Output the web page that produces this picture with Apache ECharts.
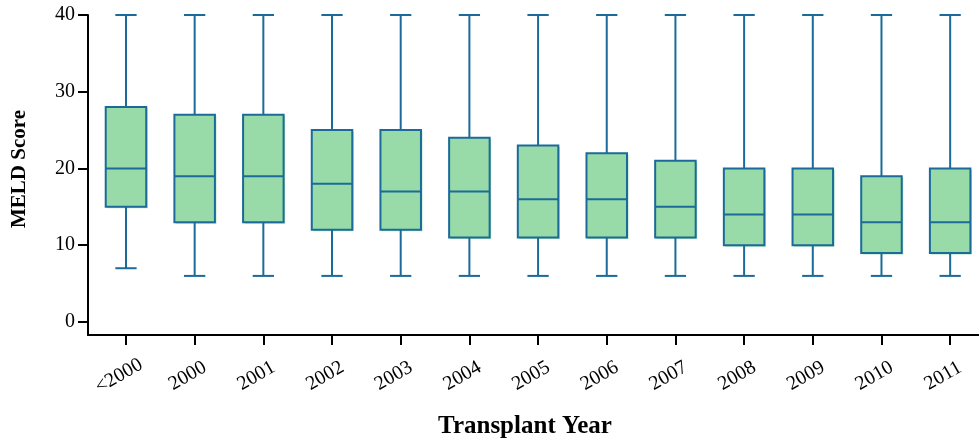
<!DOCTYPE html>
<html><head><meta charset="utf-8">
<script src="https://cdn.jsdelivr.net/npm/echarts@6/dist/echarts.min.js"></script>
<style>html,body{margin:0;padding:0;background:#fff}#c{width:979px;height:442px}</style>
</head><body><div id="c"></div>
<script>
const categories = ['<2000','2000','2001','2002','2003','2004','2005','2006','2007','2008','2009','2010','2011'];
const whiskerLow  = [7, 6, 6, 6, 6, 6, 6, 6, 6, 6, 6, 6, 6];
const q1          = [15,13,13,12,12,11,11,11,11,10,10, 9, 9];
const median      = [20,19,19,18,17,17,16,16,15,14,14,13,13];
const q3          = [28,27,27,25,25,24,23,22,21,20,20,19,20];
const whiskerHigh = [40,40,40,40,40,40,40,40,40,40,40,40,40];
const yTicks = [0,10,20,30,40];

const FONT = "'Liberation Serif','Times New Roman',serif";
const STROKE = '#1a6b9a';
const FILL = '#98dba8';

const chart = echarts.init(document.getElementById('c'), null, {renderer:'canvas'});
const data = categories.map((c,i)=>[i, whiskerLow[i], q1[i], median[i], q3[i], whiskerHigh[i]]);
const xIdx = categories.map((c,i)=>i);

chart.setOption({
  animation:false,
  backgroundColor:'#fff',
  grid:{left:88, right:0, top:15, bottom:107, containLabel:false},
  title:{text:'Transplant Year', left:520, top:409, textAlign:'center',
    textStyle:{fontFamily:FONT, fontWeight:'bold', fontSize:25, color:'#000'}},
  graphic:[{type:'text', x:20, y:169, rotation:Math.PI/2,
    style:{text:'MELD Score', font:"bold 21px "+FONT, fill:'#000', textAlign:'center', textVerticalAlign:'middle'}}],
  xAxis:{type:'value', min:-0.553, max:12.42,
    axisLine:{show:true, onZero:false, lineStyle:{color:'#000', width:2}},
    axisTick:{show:true, length:10, customValues:xIdx, lineStyle:{color:'#000', width:2}},
    axisLabel:{customValues:xIdx, rotate:30, margin:37, align:'center', verticalAlign:'middle',
      padding:[0,16,0,0], fontFamily:FONT, fontSize:20, color:'#000',
      formatter:v=>categories[Math.round(v)]},
    splitLine:{show:false}},
  yAxis:{type:'value', min:-1.7, max:40,
    axisLine:{show:true, onZero:false, lineStyle:{color:'#000', width:2}},
    axisTick:{show:true, length:10, customValues:yTicks, lineStyle:{color:'#000', width:2}},
    axisLabel:{customValues:yTicks, margin:13, fontFamily:FONT, fontSize:20, color:'#000'},
    splitLine:{show:false}},
  series:[{
    type:'custom',
    data:data,
    encode:{x:0, y:[1,2,3,4,5]},
    renderItem:function(params, api){
      const idx = api.value(0);
      const band = api.size([1,0])[0];
      const bw = band*0.59, cw = band*0.31;
      const pLow = api.coord([idx, api.value(1)]);
      const pQ1 = api.coord([idx, api.value(2)]);
      const pMed = api.coord([idx, api.value(3)]);
      const pQ3 = api.coord([idx, api.value(4)]);
      const pHigh = api.coord([idx, api.value(5)]);
      const cx = pMed[0];
      const st = {stroke:STROKE, lineWidth:2, fill:null};
      return {type:'group', children:[
        {type:'rect', shape:{x:cx-bw/2+1.5, y:pQ3[1]+1.5, width:bw, height:pQ1[1]-pQ3[1]}, style:{fill:'#aee2ba'}},
        {type:'line', shape:{x1:cx, y1:pHigh[1], x2:cx, y2:pQ3[1]}, style:st},
        {type:'line', shape:{x1:cx, y1:pQ1[1], x2:cx, y2:pLow[1]}, style:st},
        {type:'line', shape:{x1:cx-cw/2, y1:pHigh[1], x2:cx+cw/2, y2:pHigh[1]}, style:st},
        {type:'line', shape:{x1:cx-cw/2, y1:pLow[1], x2:cx+cw/2, y2:pLow[1]}, style:st},
        {type:'rect', shape:{x:cx-bw/2, y:pQ3[1], width:bw, height:pQ1[1]-pQ3[1]}, style:{fill:FILL, stroke:STROKE, lineWidth:2}},
        {type:'line', shape:{x1:cx-bw/2, y1:pMed[1], x2:cx+bw/2, y2:pMed[1]}, style:st}
      ]};
    }
  }]
});
</script></body></html>
